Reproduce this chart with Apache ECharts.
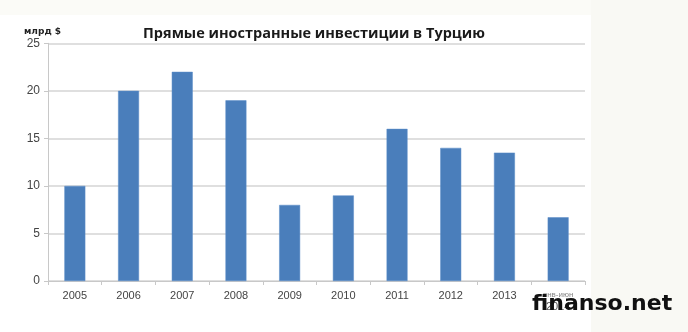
<!DOCTYPE html>
<html><head><meta charset="utf-8">
<script src="https://cdn.jsdelivr.net/npm/echarts@6/dist/echarts.min.js"></script>
<style>html,body{margin:0;padding:0;background:#fff}#c{width:688px;height:332px}</style>
</head><body><div id="c"></div>
<script>
const categories = ['2005','2006','2007','2008','2009','2010','2011','2012','2013','янв-июн\n2014'];
const values = [10, 20, 22, 19, 8, 9, 16, 14, 13.5, 6.7];
const yTicks = [0, 5, 10, 15, 20, 25];

const chart = echarts.init(document.getElementById('c'));
chart.setOption({
  backgroundColor: '#ffffff',
  animation: false,
  graphic: [
    {type:'rect', left:591, top:0, shape:{width:97, height:332}, style:{fill:'#f9f9f4'}, z:-10},
    {type:'rect', left:0, top:0, shape:{width:591, height:15}, style:{fill:'#fbfbf7'}, z:-10},
    {type:'text', left:532, top:293, style:{text:'finanso.net', font:'bold 22px "DejaVu Sans"', fill:'#111'}, z:100}
  ],
  title: [
    {text:'Прямые иностранные инвестиции в Турцию', left:309, top:21, textAlign:'center',
     textStyle:{fontFamily:'"Open Sans", "DejaVu Sans"', fontSize:14.5, fontWeight:'bold', color:'#1a1a1a'}},
    {text:'млрд $', left:19, top:22,
     textStyle:{fontFamily:'"DejaVu Sans"', fontSize:9, fontWeight:'bold', color:'#222'}}
  ],
  grid: {left:48, right:103, top:43.3, bottom:51},
  xAxis: {
    type:'category', data:categories,
    axisLine:{lineStyle:{color:'#c8c8c8'}},
    axisTick:{show:true, alignWithLabel:false, length:4, lineStyle:{color:'#c8c8c8'}},
    axisLabel:{interval:0, color:'#444', fontSize:11, fontFamily:'"Liberation Sans", Arial', margin:9,
      formatter: function(v){ return v.indexOf('\n')>=0 ? '{s|'+v.split('\n')[0]+'}\n{y|'+v.split('\n')[1]+'}' : v; },
      rich:{s:{fontSize:8, color:'#888', lineHeight:10}, y:{fontSize:11, color:'#555', lineHeight:14}}}
  },
  yAxis: {
    type:'value', min:yTicks[0], max:yTicks[yTicks.length-1], interval:5,
    axisLine:{show:true, lineStyle:{color:'#c8c8c8'}},
    axisTick:{show:true, length:4, lineStyle:{color:'#c8c8c8'}},
    splitLine:{lineStyle:{color:'#d4d4d4', width:1.5}},
    axisLabel:{color:'#444', fontSize:12, fontFamily:'"Liberation Sans", Arial', margin:8}
  },
  series: [{
    type:'bar', data:values, barWidth:'39%',
    itemStyle:{color:'#4a7ebb', borderColor:'#5b8cc8', borderWidth:0.5}
  }]
});
</script></body></html>
